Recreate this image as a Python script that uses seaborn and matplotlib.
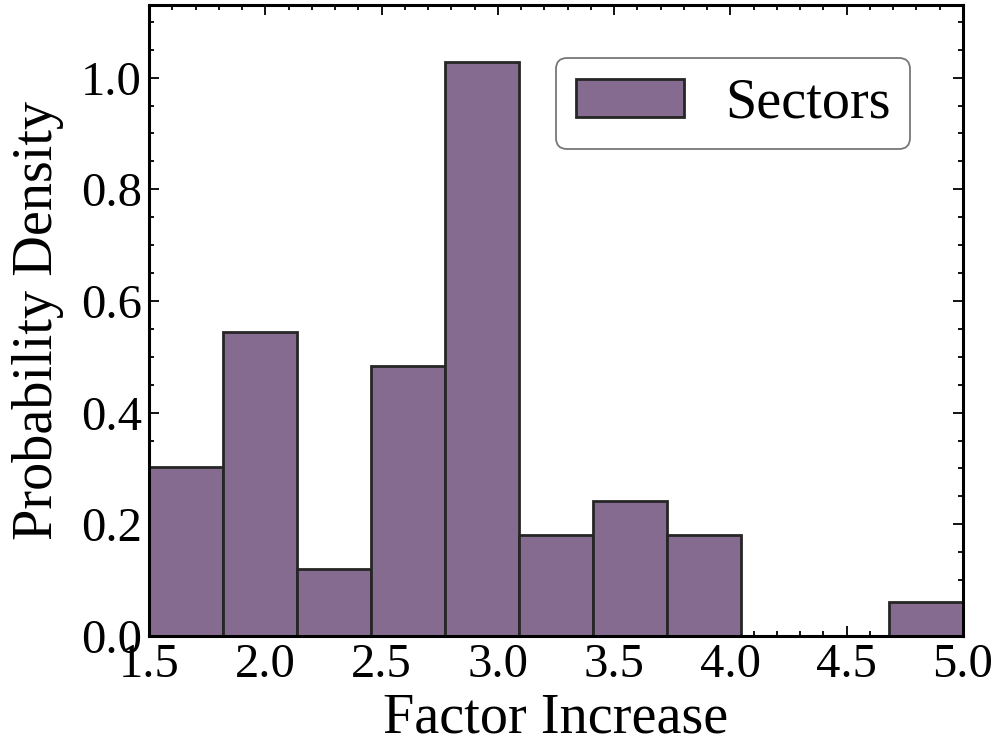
import numpy as np
import pandas as pd
import matplotlib
matplotlib.use("Agg")
import matplotlib.pyplot as plt
from matplotlib.ticker import AutoMinorLocator
import seaborn as sns

# Observed factor increases, grouped by bin (one representative value per bin)
factor_values = [1.66, 1.98, 2.30, 2.61, 2.93, 3.25, 3.57, 3.89, 4.20, 4.52, 4.84]
sector_counts = [5, 9, 2, 8, 17, 3, 4, 3, 0, 0, 1]
x_ticks = [1.5, 2.0, 2.5, 3.0, 3.5, 4.0, 4.5, 5.0]
y_ticks = [0.0, 0.2, 0.4, 0.6, 0.8, 1.0]

df = pd.DataFrame({"factor": factor_values, "count": sector_counts})

sns.set_style("ticks")
plt.rcParams["font.family"] = ["Liberation Serif", "DejaVu Serif"]
plt.rcParams["text.color"] = "black"
plt.rcParams["axes.labelcolor"] = "black"
plt.rcParams["xtick.color"] = "black"
plt.rcParams["ytick.color"] = "black"

LABEL_SIZE = 40.5
TICK_SIZE = 35

fig = plt.figure(figsize=(10.03, 7.52), dpi=100)
ax = fig.add_axes([149 / 1003, 116 / 752, 814 / 1003, 631 / 752])

sns.histplot(
    data=df, x="factor", weights="count", bins=11, binrange=(1.5, 5.0),
    stat="density", color="#866B91", edgecolor="#262626", linewidth=2.0,
    alpha=1.0, ax=ax, label="Sectors",
)

ax.set_xlim(1.5, 5.0)
ax.set_ylim(0, 1.13)
ax.set_xticks(x_ticks)
ax.set_yticks(y_ticks)
ax.set_xticklabels([f"{t:.1f}" for t in x_ticks])
ax.set_yticklabels([f"{t:.1f}" for t in y_ticks])
ax.xaxis.set_minor_locator(AutoMinorLocator(5))
ax.yaxis.set_minor_locator(AutoMinorLocator(4))

ax.tick_params(which="both", direction="in", top=True, right=True, width=1.3,
               colors="black", labelcolor="black")
ax.tick_params(which="major", length=7, labelsize=TICK_SIZE, pad=5)
ax.tick_params(which="minor", length=3.5)
for s in ax.spines.values():
    s.set_visible(True)
    s.set_linewidth(2.2)
    s.set_color("black")

ax.set_xlabel("Factor Increase", fontsize=LABEL_SIZE, labelpad=4, color="black")
ax.set_ylabel("Probability Density", fontsize=LABEL_SIZE, labelpad=12, color="black")

leg = ax.legend(
    loc="upper right", bbox_to_anchor=(0.935, 0.916), borderaxespad=0,
    fontsize=LABEL_SIZE, frameon=True, fancybox=True, handlelength=1.92,
    handleheight=0.68, handletextpad=0.73, borderpad=0.35,
)
leg.get_frame().set_edgecolor("#555555")
leg.get_frame().set_linewidth(1.3)
for t in leg.get_texts():
    t.set_color("black")

fig.savefig("out.png", dpi=100)
